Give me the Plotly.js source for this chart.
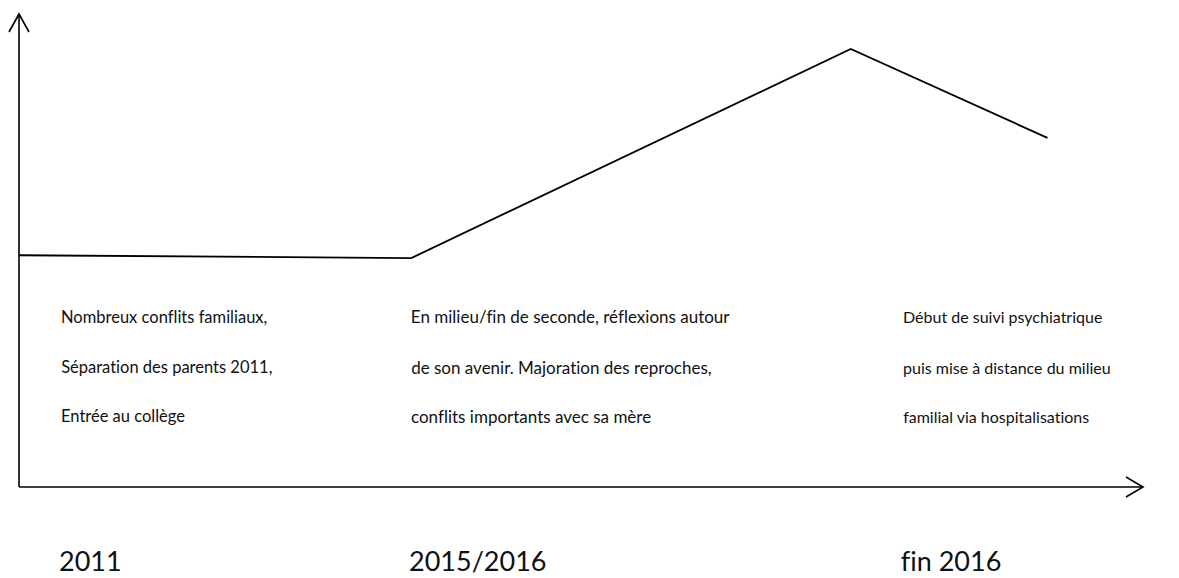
<!DOCTYPE html>
<html>
<head>
<meta charset="utf-8">
<script src="https://cdn.plot.ly/plotly-3.0.1.min.js"></script>
<style>html,body{margin:0;padding:0;background:#fff;}#chart{width:1179px;height:578px;}
#chart text{font-variant-ligatures:none;font-feature-settings:"liga" 0;}</style>
</head>
<body>
<div id="chart"></div>
<script>
// Schematic evolution (arbitrary units)
const timeValues = [0, 3.49, 7.40, 9.15];
const tensionValues = [4.90, 4.84, 9.26, 7.38];

const periodLabels = ["2011", "2015/2016", "fin 2016"];
const periodDescriptions = [
  ["Nombreux conflits familiaux,", "Séparation des parents 2011,", "Entrée au collège"],
  ["En milieu/fin de seconde, réflexions autour", "de son avenir. Majoration des reproches,", "conflits importants avec sa mère"],
  ["Début de suivi psychiatrique", "puis mise à distance du milieu", "familial via hospitalisations"]
];

const W = 1179, H = 578;
const L = 19, R = 1143, T = 14, B = 487;
const px = x => (x - L) / (R - L);
const py = y => (B - y) / (B - T);

const colX = [59, 409, 901];
const colSize = [16.5, 17, 16];
const lineY = [317, 367, 416];
const fontFam = "Lato, 'Open Sans', sans-serif";

const annotations = [];
periodDescriptions.forEach((lines, c) => {
  lines.forEach((t, i) => {
    annotations.push({
      xref: 'paper', yref: 'paper', x: px(colX[c]), y: py(lineY[i]),
      xanchor: 'left', yanchor: 'middle', showarrow: false, text: t,
      font: {family: fontFam, size: colSize[c], color: '#111'}
    });
  });
});
periodLabels.forEach((t, c) => {
  annotations.push({
    xref: 'paper', yref: 'paper', x: px(colX[c] - 1), y: py(578), borderpad: 0,
    xanchor: 'left', yanchor: 'bottom', showarrow: false, text: t,
    font: {family: fontFam, size: 27, color: '#111'}
  });
});

const arrow = pts => ({
  type: 'path', xref: 'paper', yref: 'paper',
  path: 'M' + pts.map(p => px(p[0]) + ',' + py(p[1])).join(' L'),
  line: {color: '#000', width: 1.6}
});

const shapes = [
  {type: 'line', xref: 'paper', yref: 'paper', x0: px(19), y0: py(487), x1: px(19), y1: py(14), line: {color: '#000', width: 1.6}},
  {type: 'line', xref: 'paper', yref: 'paper', x0: px(19), y0: py(487), x1: px(1143), y1: py(487), line: {color: '#000', width: 1.6}},
  arrow([[9, 32], [19, 14], [29, 32]]),
  arrow([[1126, 477], [1143, 487], [1126, 497]])
];

Plotly.newPlot('chart', [{
  x: timeValues, y: tensionValues, type: 'scatter', mode: 'lines',
  line: {color: '#000', width: 1.8}, hoverinfo: 'skip'
}], {
  width: W, height: H,
  margin: {l: L, r: W - R, t: T, b: H - B},
  paper_bgcolor: '#fff', plot_bgcolor: '#fff',
  showlegend: false,
  xaxis: {range: [0, 10], visible: false, fixedrange: true},
  yaxis: {range: [0, 10], visible: false, fixedrange: true},
  annotations, shapes
}, {displayModeBar: false, staticPlot: true});
</script>
</body>
</html>
